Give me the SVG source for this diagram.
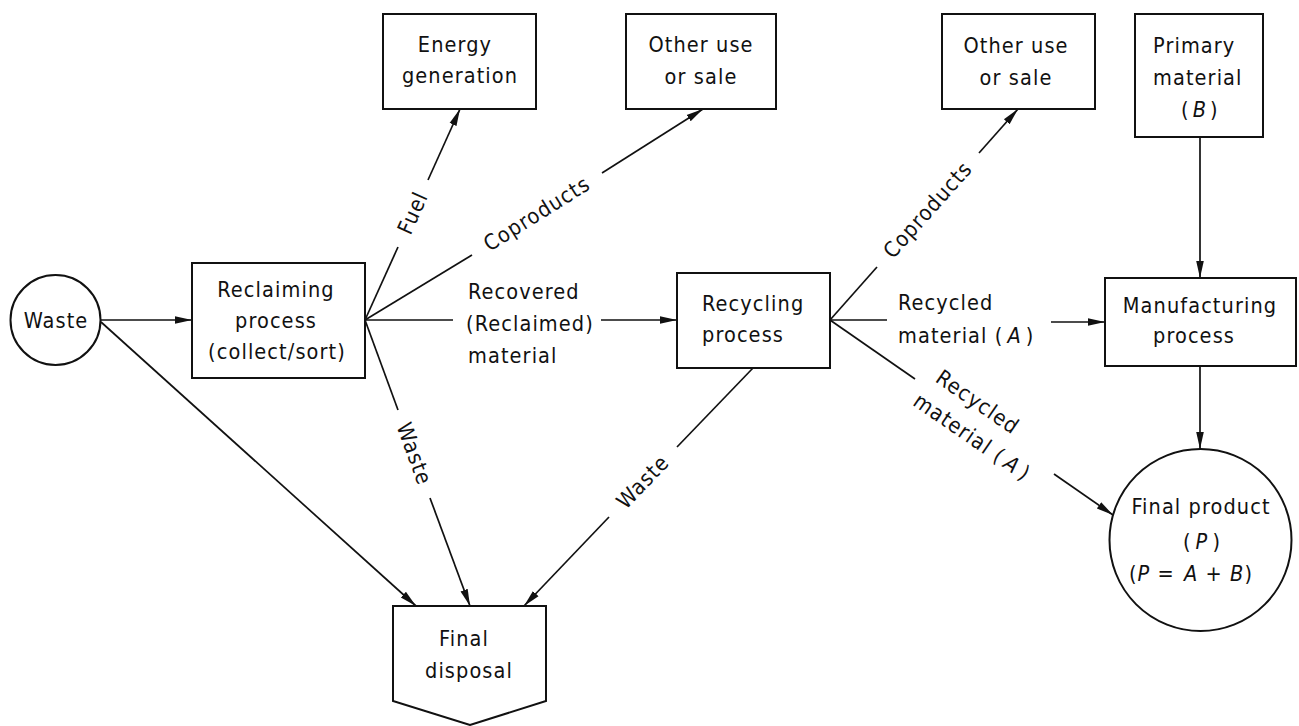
<svg xmlns="http://www.w3.org/2000/svg" width="1299" height="726" viewBox="0 0 1299 726">
<style>
text{font-family:"DejaVu Sans Condensed","Liberation Sans Narrow","DejaVu Sans",sans-serif;font-stretch:condensed;font-size:21.5px;letter-spacing:1.1px;fill:#111}
.m{text-anchor:middle}
.i{font-style:italic}
.box{fill:#fff;stroke:#111;stroke-width:2}
.ln{fill:none;stroke:#111;stroke-width:1.7}
.ar{marker-end:url(#ah)}
</style>
<defs>
<marker id="ah" markerUnits="userSpaceOnUse" markerWidth="18" markerHeight="10" refX="17" refY="5" orient="auto">
<path d="M0,1.2 L17,5 L0,8.8 z" fill="#111"/>
</marker>
</defs>
<rect width="1299" height="726" fill="#fff"/>
<g id="connectors">
<line class="ln ar" x1="100" y1="320" x2="192" y2="320"/>
<line class="ln ar" x1="101" y1="322" x2="416" y2="606"/>
<line class="ln" x1="365" y1="320" x2="398" y2="247"/>
<line class="ln ar" x1="428" y1="180" x2="460" y2="109"/>
<line class="ln" x1="365" y1="320" x2="472" y2="255"/>
<line class="ln ar" x1="602" y1="173" x2="703" y2="109"/>
<line class="ln" x1="365" y1="320" x2="453" y2="320"/>
<line class="ln ar" x1="601" y1="320" x2="677" y2="320"/>
<line class="ln" x1="365" y1="320" x2="398" y2="410"/>
<line class="ln ar" x1="430" y1="498" x2="470" y2="606"/>
<line class="ln" x1="753" y1="368" x2="677" y2="447"/>
<line class="ln ar" x1="609" y1="517" x2="524" y2="606"/>
<line class="ln" x1="830" y1="320" x2="877" y2="267"/>
<line class="ln ar" x1="979" y1="153" x2="1018" y2="109"/>
<line class="ln" x1="830" y1="320" x2="887" y2="320"/>
<line class="ln ar" x1="1051" y1="322" x2="1105" y2="322"/>
<line class="ln" x1="830" y1="320" x2="915" y2="379"/>
<line class="ln ar" x1="1054" y1="474" x2="1113" y2="515"/>
<line class="ln ar" x1="1200" y1="137" x2="1200" y2="278"/>
<line class="ln ar" x1="1200" y1="366" x2="1200" y2="449"/>
<g transform="translate(413,213) rotate(-65.8)"><text class="m" x="0" y="7">Fuel</text></g>
<g transform="translate(537,214) rotate(-32)"><text class="m" x="0" y="7">Coproducts</text></g>
<g transform="translate(928,210) rotate(-48.3)"><text class="m" x="0" y="7">Coproducts</text></g>
<g transform="translate(414,454) rotate(69.8)"><text class="m" x="0" y="7">Waste</text></g>
<g transform="translate(643,482) rotate(-46.1)"><text class="m" x="0" y="7">Waste</text></g>
<text x="468" y="299">Recovered</text>
<text x="466" y="331">(Reclaimed)</text>
<text x="468" y="363">material</text>
<text x="898" y="310">Recycled</text>
<text x="898" y="343">material (<tspan class="i" dx="4">A</tspan><tspan dx="4">)</tspan></text>
<g transform="translate(985,427) rotate(34.6)">
<text x="-68" y="-9">Recycled</text>
<text x="-73" y="23">material (<tspan class="i" dx="4">A</tspan><tspan dx="4">)</tspan></text>
</g>
</g>
<g id="waste"><circle cx="55.5" cy="320" r="45" class="box"/><text class="m" x="56" y="328">Waste</text></g>
<g id="reclaiming"><rect x="192" y="263" width="173" height="115" class="box"/>
<text class="m" x="276" y="297">Reclaiming</text><text class="m" x="276" y="328">process</text><text class="m" x="277" y="359">(collect/sort)</text></g>
<g id="energy"><rect x="383" y="14" width="153" height="95" class="box"/>
<text class="m" x="455" y="52">Energy</text><text class="m" x="460" y="83">generation</text></g>
<g id="other1"><rect x="626" y="14" width="150" height="95" class="box"/>
<text class="m" x="701" y="52">Other use</text><text class="m" x="701" y="84">or sale</text></g>
<g id="other2"><rect x="942" y="14" width="153" height="95" class="box"/>
<text class="m" x="1016" y="53">Other use</text><text class="m" x="1016" y="85">or sale</text></g>
<g id="primary"><rect x="1135" y="14" width="128" height="123" class="box"/>
<text x="1153" y="53">Primary</text><text x="1153" y="85">material</text><text x="1181" y="117">(<tspan class="i" dx="3">B</tspan><tspan dx="3">)</tspan></text></g>
<g id="recycling"><rect x="677" y="273" width="153" height="95" class="box"/>
<text x="702" y="311">Recycling</text><text x="702" y="342">process</text></g>
<g id="manufacturing"><rect x="1105" y="278" width="191" height="88" class="box"/>
<text class="m" x="1200" y="313">Manufacturing</text><text class="m" x="1194" y="343">process</text></g>
<g id="final-product"><circle cx="1200.5" cy="540" r="91" class="box"/>
<text class="m" x="1201" y="514">Final product</text>
<text class="m" x="1202" y="549">(<tspan class="i" dx="4">P</tspan><tspan dx="4">)</tspan></text>
<text class="m" x="1191" y="581">(<tspan class="i">P</tspan> =<tspan class="i" dx="9">A</tspan> + <tspan class="i">B</tspan>)</text></g>
<g id="final-disposal"><path d="M393,606 H546 V701 L470,725 L393,701 Z" class="box"/>
<text class="m" x="464" y="646">Final</text><text class="m" x="469" y="678">disposal</text></g>
</svg>
